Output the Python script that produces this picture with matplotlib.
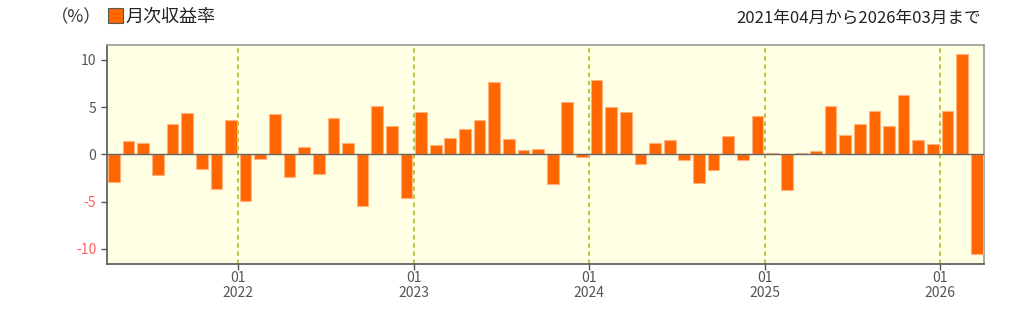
import numpy as np
import matplotlib
matplotlib.use("Agg")
import matplotlib.pyplot as plt
from matplotlib.patches import Rectangle

plt.rcParams['font.family'] = ['Noto Sans CJK JP', 'DejaVu Sans']

# Monthly returns (%) from 2021-04 to 2026-03
months = ["2021-%02d" % m for m in range(4, 13)] + \
         ["%d-%02d" % (y, m) for y in range(2022, 2026) for m in range(1, 13)] + \
         ["2026-01", "2026-02", "2026-03"]
returns = [-2.9, 1.4, 1.2, -2.2, 3.2, 4.4, -1.5, -3.7, 3.6,
           -4.9, -0.5, 4.3, -2.4, 0.8, -2.1, 3.8, 1.2, -5.5, 5.1, 3.0, -4.6,
           4.5, 0.95, 1.7, 2.7, 3.6, 7.7, 1.6, 0.5, 0.6, -3.1, 5.5, -0.3,
           7.9, 5.0, 4.5, -1.0, 1.2, 1.5, -0.6, -3.0, -1.6, 1.9, -0.6, 4.1,
           0.15, -3.8, 0.2, 0.4, 5.1, 2.0, 3.2, 4.6, 3.0, 6.3, 1.5, 1.1,
           4.6, 10.6, -10.5]
yticks = [-10, -5, 0, 5, 10]

x = np.arange(len(months))
jan_idx = [i for i, m in enumerate(months) if m.endswith("-01")]
jan_labels = ["01\n" + months[i][:4] for i in jan_idx]

fig = plt.figure(figsize=(10.24, 3.22), dpi=100)
ax = fig.add_axes([0.1042, 0.180, 0.8568, 0.681])
ax.set_facecolor("#FFFFE3")

ax.bar(x, returns, width=0.8, color="#FF6600", edgecolor="#FFB27A", linewidth=0.8, zorder=3)
ax.axhline(0, color="#666666", linewidth=1.0, zorder=4)
for i in jan_idx:
    ax.axvline(i - 0.5, color="#BCBC3C", linestyle=(0, (2.5, 2)), linewidth=1.3, zorder=2)

ax.set_xlim(-0.5, len(months) - 0.5)
ax.set_ylim(-11.6, 11.6)
ax.set_yticks(yticks)
ax.set_yticklabels([str(v) for v in yticks], fontsize=10)
for lab, v in zip(ax.get_yticklabels(), yticks):
    lab.set_color("#FF6060" if v < 0 else "#555555")
ax.set_xticks([i - 0.5 for i in jan_idx])
ax.set_xticklabels(jan_labels, fontsize=10, color="#555555", linespacing=1.1)
ax.tick_params(axis="both", length=4, width=1, color="#555555")
ax.tick_params(axis="x", pad=1)

for s in ["left", "bottom"]:
    ax.spines[s].set_color("#555555")
for s in ["top", "right"]:
    ax.spines[s].set_color("#999999")
for s in ax.spines.values():
    s.set_linewidth(1.2)

fig.text(0.050, 0.947, "（%）", fontsize=12.5, color="#333333", va="center")
fig.patches.append(Rectangle((0.1055, 0.929), 0.015, 0.047, transform=fig.transFigure,
                             facecolor="#FF6600", edgecolor="#555555", linewidth=0.8))
fig.text(0.123, 0.947, "月次収益率", fontsize=13, color="#222222", va="center")
fig.text(0.958, 0.945, "2021年04月から2026年03月まで", fontsize=12, color="#222222",
         va="center", ha="right")

fig.savefig("out.png", dpi=100)
